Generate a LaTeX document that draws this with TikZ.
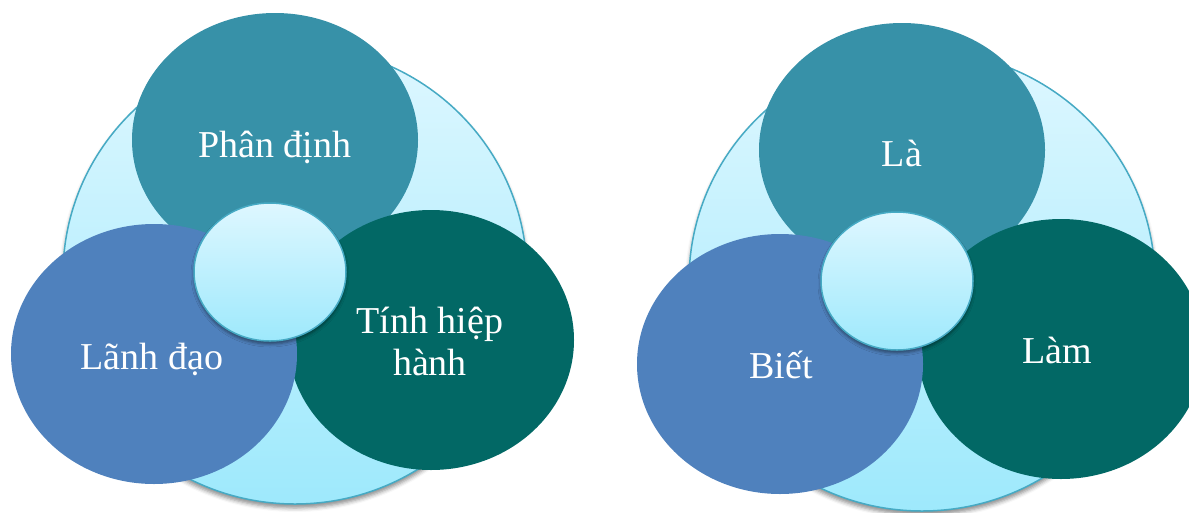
\documentclass[tikz,border=0pt]{standalone}
\usepackage{fontspec}
\setmainfont{Liberation Serif}
\usetikzlibrary{shapes.geometric,shadows.blur}
\definecolor{topc}{RGB}{55,145,168}
\definecolor{bluec}{RGB}{79,129,189}
\definecolor{darkc}{RGB}{2,104,101}
\definecolor{ringc}{RGB}{70,170,196}
\definecolor{lighttop}{RGB}{222,247,255}
\definecolor{lightbot}{RGB}{158,233,252}
\begin{document}
\begin{tikzpicture}[x=1pt,y=-1pt,
  bigc/.style={ellipse,inner sep=0pt,draw=ringc,line width=1.5pt,
    top color=lighttop,bottom color=lightbot,
    blur shadow={shadow xshift=0pt,shadow yshift=-4pt,shadow blur radius=4pt,shadow opacity=45},
    minimum width=464pt,minimum height=458pt},
  petal/.style={ellipse,inner sep=0pt,draw=none,minimum width=286pt,minimum height=260pt},
  hub/.style={ellipse,inner sep=0pt,draw=ringc,line width=1.5pt,
    top color=lighttop,bottom color=lightbot,
    blur shadow={shadow xshift=0pt,shadow yshift=-3pt,shadow blur radius=3pt,shadow opacity=45},
    minimum width=152pt,minimum height=138pt},
  lbl/.style={text=white,font=\fontsize{38}{42}\selectfont,inner sep=0pt,anchor=base}]
\useasboundingbox (0,0) rectangle (1189,512);
% left diagram
\node[bigc] (LB) at (295,275) {};
\node[petal,fill=topc,minimum height=254pt] (LT) at (275,140) {};
\node[petal,fill=darkc] (LR) at (431,340) {};
\node[petal,fill=bluec] (LL) at (154,354) {};
\node[hub] (LH) at (270,272) {};
\node[lbl] (LTt) at (275,157) {Phân định};
\node[lbl] (LLt) at (152,369) {Lãnh đạo};
\node[lbl,anchor=center,align=center] (LRt) at (430,341) {Tính hiệp\\hành};
% right diagram
\node[bigc,minimum width=466pt,minimum height=460pt] (RB) at (922,281) {};
\node[petal,fill=topc,minimum height=254pt] (RT) at (902,150) {};
\node[petal,fill=darkc] (RR) at (1061,349) {};
\node[petal,fill=bluec] (RL) at (780,364) {};
\node[hub] (RH) at (897,281) {};
\node[lbl] (RTt) at (902,166) {Là};
\node[lbl] (RLt) at (781,378) {Biết};
\node[lbl] (RRt) at (1057,363) {Làm};
\end{tikzpicture}
\end{document}
